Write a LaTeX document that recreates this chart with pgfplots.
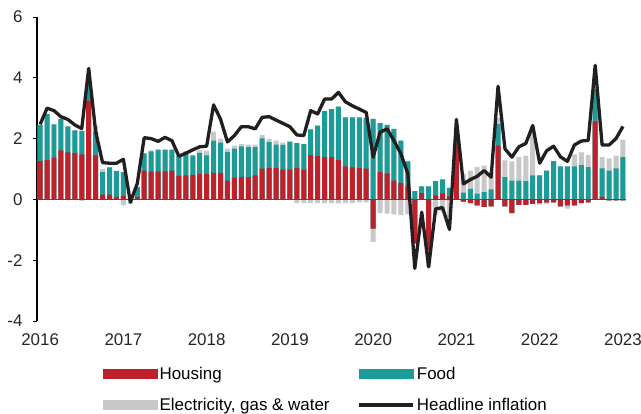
\documentclass[border=0pt]{standalone}
\usepackage{pgfplots}
\pgfplotsset{compat=1.18}
\usepackage{pgfplotstable}
\usepackage{fontspec}
\setmainfont{Liberation Sans}
\definecolor{hred}{HTML}{C0202A}
\definecolor{fteal}{HTML}{1C9C98}
\definecolor{egray}{HTML}{C8C8C8}
\definecolor{hline}{HTML}{231F20}

% x r(housing) t(food) g(electricity, gas & water) L(headline)
\pgfplotstableread{
x r t g L
0 1.26 1.19 0 2.47
1 1.30 1.51 0 3.00
2 1.37 1.10 0 2.92
3 1.61 1.03 0 2.72
4 1.55 0.85 0 2.63
5 1.52 0.75 0 2.45
6 1.48 0.77 -0.05 2.33
7 3.25 0.52 0 4.31
8 1.45 0.76 0.22 2.24
9 0.16 0.74 0.10 1.21
10 0.16 0.89 0 1.19
11 0.08 0.86 0 1.19
12 0.11 0.79 -0.20 1.32
13 0.05 0.00 -0.15 -0.09
14 0.08 0.32 0 0.52
15 0.95 0.56 0 2.03
16 0.92 0.66 0.03 2.00
17 0.92 0.70 0.03 1.91
18 0.92 0.70 0.03 2.04
19 0.95 0.67 0.03 1.93
20 0.77 0.66 0.03 1.42
21 0.79 0.76 0.04 1.52
22 0.81 0.63 0.03 1.63
23 0.84 0.69 0.08 1.73
24 0.83 0.62 0.15 1.75
25 0.87 1.06 0.30 3.11
26 0.87 1.00 0.13 2.64
27 0.62 0.94 0.11 1.89
28 0.71 0.96 0.10 2.10
29 0.73 1.01 0.09 2.39
30 0.73 0.99 0.08 2.39
31 0.79 0.93 0.08 2.32
32 1.01 1.00 0.11 2.70
33 1.04 0.84 0.11 2.72
34 1.03 0.77 0.13 2.61
35 0.98 0.81 0.08 2.50
36 0.98 0.92 0 2.39
37 1.04 0.81 -0.12 2.12
38 0.98 0.84 -0.12 2.10
39 1.46 0.84 -0.12 2.92
40 1.42 1.01 -0.12 2.81
41 1.39 1.51 -0.12 3.30
42 1.39 1.58 -0.12 3.30
43 1.30 1.75 -0.13 3.52
44 1.09 1.61 -0.12 3.21
45 1.05 1.65 -0.12 3.08
46 1.03 1.67 -0.10 2.97
47 1.01 1.67 -0.10 2.86
48 -0.96 2.65 -0.44 1.39
49 0.90 1.61 -0.45 2.21
50 0.86 1.59 -0.47 2.32
51 0.62 1.70 -0.49 1.93
52 0.54 1.39 -0.52 1.50
53 0.43 0.82 -0.49 0.84
54 -1.45 0.27 0 -2.27
55 0.21 0.22 0 -0.42
56 -1.65 0.43 -0.55 -2.22
57 0.13 0.47 -0.50 -0.31
58 0.20 0.46 -0.40 -0.27
59 0.10 0.28 -0.60 -0.99
60 1.85 0.15 0 2.63
61 -0.07 0.22 0.62 0.51
62 -0.12 0.35 0.60 0.65
63 -0.20 0.19 0.87 0.76
64 -0.25 0.24 0.87 0.95
65 -0.23 0.33 0.57 0.73
66 1.77 0.71 0.20 3.72
67 -0.23 0.73 0.55 1.66
68 -0.45 0.62 0.63 1.39
69 -0.18 0.62 0.77 1.73
70 -0.18 0.60 0.84 1.84
71 -0.15 0.79 1.60 2.43
72 -0.12 0.79 -0.05 1.19
73 -0.10 0.95 -0.05 1.60
74 -0.10 1.26 0 1.75
75 -0.23 1.09 0 1.40
76 -0.20 1.09 -0.10 1.25
77 -0.20 1.09 0.39 1.79
78 -0.12 1.13 0.42 1.92
79 -0.10 1.06 0.40 1.94
80 2.57 1.07 0 4.41
81 0.08 0.94 0.37 1.79
82 -0.03 0.95 0.40 1.79
83 -0.03 1.02 0.42 2.00
84 -0.03 1.39 0.58 2.40
}\data

\begin{document}
\begin{tikzpicture}
\begin{axis}[
  scale only axis, width=589.4bp, height=304bp,
  xmin=-0.45, xmax=84.5, ymin=-4, ymax=6,
  axis y line*=left, axis x line*=bottom,
  x axis line style={draw=none},
  y axis line style={line width=1.1bp, black},
  xtick={0,12,...,84},
  xticklabels={2016,2017,2018,2019,2020,2021,2022,2023},
  ytick={-4,-2,0,2,4,6},
  yticklabels={-4,-2,0,2,4,6},
  xtick style={draw=none},
  ytick style={line width=0.8bp, black},
  tick align=outside, major tick length=4bp,
  tick label style={font=\fontsize{17}{20}\selectfont, text=black!85},
  xticklabel style={yshift=-5bp},
  yticklabel style={xshift=-7bp},
  legend columns=2,
  legend cell align=left,
  legend style={at={(0.112,-0.145)}, anchor=north west, draw=none, fill=none,
    inner sep=0pt, font=\fontsize{17}{20}\selectfont,
    /tikz/every even column/.append style={column sep=26bp},
    row sep=13bp},
  every axis plot/.append style={forget plot},
]
\pgfplotsset{mybar/.style={ybar, bar shift=0pt, bar width=0.72, draw=none, fill=#1}}
% positive stack (drawn back to front)
\addplot[mybar=egray] table[x=x, y expr={max(\thisrow{r},0)+max(\thisrow{t},0)+max(\thisrow{g},0)}]{\data};
\addplot[mybar=fteal] table[x=x, y expr={max(\thisrow{r},0)+max(\thisrow{t},0)}]{\data};
\addplot[mybar=hred] table[x=x, y expr={max(\thisrow{r},0)}]{\data};
% negative stack
\addplot[mybar=egray] table[x=x, y expr={min(\thisrow{r},0)+min(\thisrow{t},0)+min(\thisrow{g},0)}]{\data};
\addplot[mybar=fteal] table[x=x, y expr={min(\thisrow{r},0)+min(\thisrow{t},0)}]{\data};
\addplot[mybar=hred] table[x=x, y expr={min(\thisrow{r},0)}]{\data};
% zero line
\addplot[black!70, line width=1.1bp] coordinates {(-0.45,0) (84.5,0)};
% headline
\addplot[hline, line width=3.3bp, line join=round, mark=none] table[x=x, y=L]{\data};

\addlegendimage{legend image code/.code={\fill[hred] (0bp,-4.5bp) rectangle (54bp,4.5bp);}}
\addlegendentry{Housing}
\addlegendimage{legend image code/.code={\fill[fteal] (0bp,-4.5bp) rectangle (54bp,4.5bp);}}
\addlegendentry{Food}
\addlegendimage{legend image code/.code={\fill[egray] (0bp,-4.5bp) rectangle (54bp,4.5bp);}}
\addlegendentry{Electricity, gas \& water}
\addlegendimage{legend image code/.code={\draw[hline, line width=3.3bp] (0bp,0bp) -- (54bp,0bp);}}
\addlegendentry{Headline inflation}
\end{axis}
\pgfresetboundingbox
\path (-37bp,-93bp) rectangle (604bp,321bp);
\end{tikzpicture}
\end{document}
